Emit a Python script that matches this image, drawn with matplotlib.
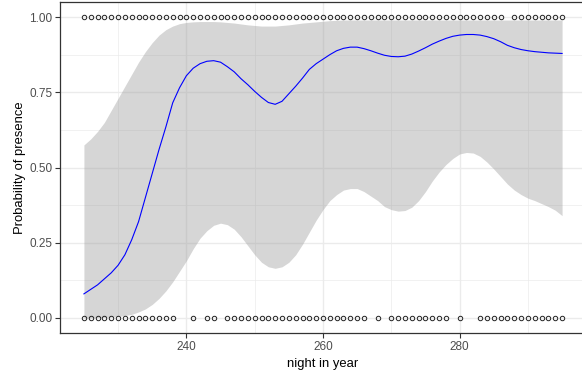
import numpy as np
import matplotlib
matplotlib.use("Agg")
import matplotlib.pyplot as plt

plt.rcParams['font.family'] = ['Liberation Sans', 'DejaVu Sans']

# observed nights (presence = 1 / absence = 0)
nights_present = list(range(225, 287)) + list(range(288, 296))
nights_absent = (list(range(225, 239)) + [241, 243, 244] + list(range(246, 267))
                 + [268] + list(range(270, 279)) + [280] + list(range(283, 296)))

# fitted smooth and its band, one value per night
fit_night = list(range(225, 296))
fit_prob = [0.08, 0.095, 0.11, 0.13, 0.15, 0.175, 0.21, 0.26, 0.32, 0.40,
            0.48, 0.56, 0.635, 0.715, 0.765, 0.805, 0.83, 0.845, 0.853, 0.855,
            0.85, 0.835, 0.818, 0.795, 0.775, 0.753, 0.733, 0.716, 0.71, 0.72,
            0.745, 0.77, 0.797, 0.826, 0.845, 0.86, 0.875, 0.888, 0.896, 0.9,
            0.9, 0.895, 0.888, 0.88, 0.873, 0.869, 0.868, 0.87, 0.877, 0.887,
            0.898, 0.91, 0.92, 0.929, 0.936, 0.94, 0.942, 0.942, 0.94, 0.935,
            0.928, 0.918, 0.906, 0.898, 0.892, 0.888, 0.885, 0.883, 0.881, 0.88,
            0.879]
band_upper = [0.575, 0.595, 0.62, 0.65, 0.69, 0.73, 0.77, 0.81, 0.85, 0.885,
              0.915, 0.94, 0.958, 0.97, 0.978, 0.982, 0.984, 0.985, 0.985, 0.985,
              0.984, 0.982, 0.98, 0.977, 0.974, 0.972, 0.97, 0.97, 0.97, 0.972,
              0.974, 0.977, 0.98, 0.982, 0.984, 0.986, 0.988, 0.989, 0.99, 0.99,
              0.99, 0.99, 0.99, 0.99, 0.99, 0.99, 0.99, 0.99, 0.99, 0.99,
              0.99, 0.99, 0.99, 0.99, 0.99, 0.99, 0.99, 0.99, 0.99, 0.99,
              0.99, 0.99, 0.99, 0.99, 0.99, 0.99, 0.99, 0.99, 0.99, 0.99,
              0.99]
band_lower = [0.0, 0.0, 0.001, 0.002, 0.003, 0.005, 0.008, 0.012, 0.02, 0.03,
              0.045, 0.065, 0.09, 0.12, 0.155, 0.19, 0.23, 0.265, 0.29, 0.308,
              0.315, 0.31, 0.295, 0.27, 0.24, 0.21, 0.185, 0.17, 0.165, 0.17,
              0.185, 0.21, 0.245, 0.285, 0.325, 0.36, 0.39, 0.41, 0.425, 0.43,
              0.43, 0.42, 0.405, 0.39, 0.37, 0.36, 0.355, 0.357, 0.368, 0.39,
              0.42, 0.455, 0.485, 0.51, 0.53, 0.545, 0.55, 0.548, 0.537, 0.518,
              0.495, 0.47, 0.445, 0.425, 0.41, 0.398, 0.39, 0.38, 0.37, 0.358,
              0.34]

fig = plt.figure(figsize=(5.82, 3.74), dpi=100)
ax = fig.add_axes([60 / 582, 41 / 374, 526 / 582, 331 / 374])

ax.set_xlim(221.5, 298.5)
ax.set_ylim(-0.05, 1.05)

# grid like theme_bw
for x in [240, 260, 280]:
    ax.axvline(x, color='#EBEBEB', lw=1.0, zorder=0)
for x in [230, 250, 270, 290]:
    ax.axvline(x, color='#EBEBEB', lw=0.5, zorder=0)
for y in [0, 0.25, 0.5, 0.75, 1.0]:
    ax.axhline(y, color='#EBEBEB', lw=1.0, zorder=0)
for y in [0.125, 0.375, 0.625, 0.875]:
    ax.axhline(y, color='#EBEBEB', lw=0.5, zorder=0)

ax.fill_between(fit_night, band_lower, band_upper, color='#999999', alpha=0.4,
                lw=0, zorder=1)
ax.plot(fit_night, fit_prob, color='#0000FF', lw=0.8, zorder=2)

ax.plot(nights_present, [1] * len(nights_present), 'o', mfc='none', mec='#222222',
        ms=3.2, mew=0.7, zorder=3)
ax.plot(nights_absent, [0] * len(nights_absent), 'o', mfc='none', mec='#222222',
        ms=3.2, mew=0.7, zorder=3)

ax.set_xticks([240, 260, 280])
ax.set_yticks([0, 0.25, 0.5, 0.75, 1.0])
ax.set_yticklabels(['0.00', '0.25', '0.50', '0.75', '1.00'])
ax.tick_params(colors='#333333', labelcolor='#4D4D4D', labelsize=8.5, length=3.5,
               width=0.8, pad=2)
for s in ax.spines.values():
    s.set_color('#333333')
    s.set_linewidth(0.9)

ax.set_xlabel('night in year', fontsize=9.4, color='black', labelpad=4)
ax.set_ylabel('Probability of presence', fontsize=9.4, color='black', labelpad=2)

fig.savefig('out.png', dpi=100)
